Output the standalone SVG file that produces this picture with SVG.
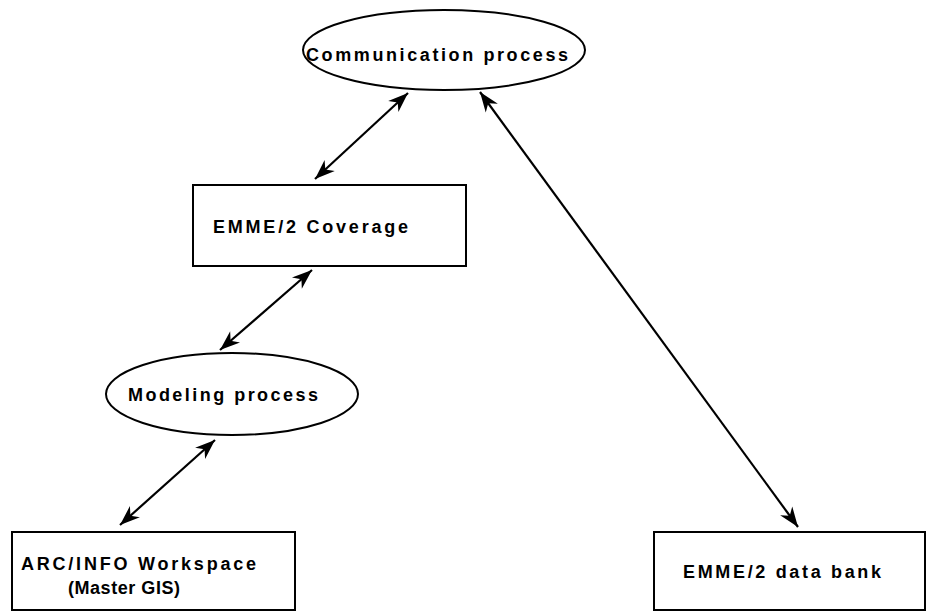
<svg xmlns="http://www.w3.org/2000/svg" width="927" height="612" viewBox="0 0 927 612">
<style>
.n{fill:#fff;stroke:#000;stroke-width:2}
.t{font-family:"Liberation Sans",Arial,sans-serif;font-weight:bold;font-size:18px;fill:#000}
.c{stroke:#000;stroke-width:2.2;fill:none;marker-start:url(#ah);marker-end:url(#ah)}
</style>
<defs>
<marker id="ah" markerUnits="userSpaceOnUse" markerWidth="22" markerHeight="18" viewBox="-21 -9 22 18" refX="0" refY="0" orient="auto-start-reverse">
<path d="M0,0 L-20,-7.5 L-14,0 L-20,7.5 Z" fill="#000"/>
</marker>
</defs>
<rect width="927" height="612" fill="#fff"/>
<g id="communication">
<ellipse class="n" cx="444" cy="50" rx="141" ry="40"/>
<text class="t" x="306" y="61" textLength="262" lengthAdjust="spacing">Communication process</text>
</g>
<g id="coverage">
<rect class="n" x="193" y="185" width="273" height="81"/>
<text class="t" x="213" y="233" textLength="195" lengthAdjust="spacing">EMME/2 Coverage</text>
</g>
<g id="modeling">
<ellipse class="n" cx="232" cy="394" rx="126" ry="41"/>
<text class="t" x="128" y="401" textLength="190" lengthAdjust="spacing">Modeling process</text>
</g>
<g id="arcinfo">
<rect class="n" x="12" y="532" width="283" height="78"/>
<text class="t" x="21" y="570" textLength="235" lengthAdjust="spacing">ARC/INFO Workspace</text>
<text class="t" x="68" y="594" textLength="112" lengthAdjust="spacing">(Master GIS)</text>
</g>
<g id="databank">
<rect class="n" x="654" y="532" width="271" height="78"/>
<text class="t" x="683" y="578" textLength="198" lengthAdjust="spacing">EMME/2 data bank</text>
</g>
<g id="connectors">
<line class="c" x1="408" y1="93" x2="315" y2="179"/>
<line class="c" x1="312" y1="270" x2="220" y2="350"/>
<line class="c" x1="215" y1="440" x2="120" y2="525"/>
<line class="c" x1="480" y1="92" x2="798" y2="527"/>
</g>
</svg>
